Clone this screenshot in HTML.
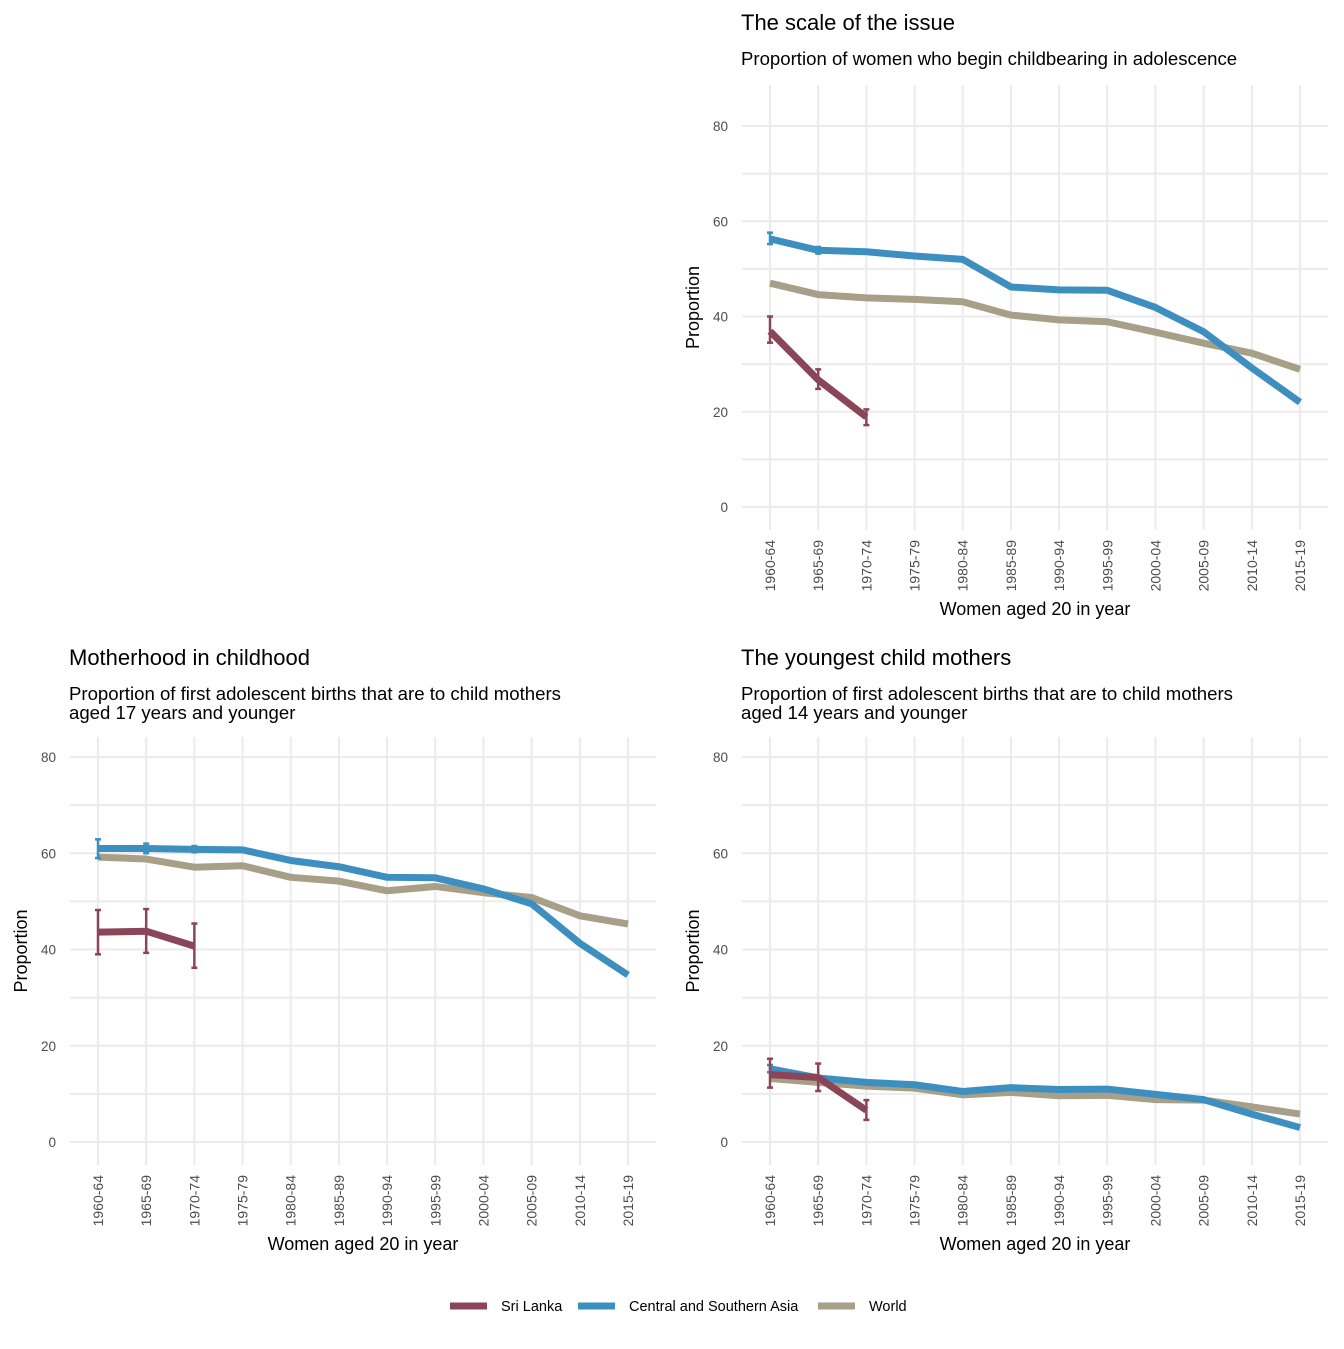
<!DOCTYPE html>
<html><head><meta charset="utf-8"><style>
body{margin:0;background:#fff;}
svg text{font-family:"Liberation Sans",Arial,sans-serif;}
</style></head><body>
<svg id="c" width="1344" height="1344" viewBox="0 0 1344 1344" xmlns="http://www.w3.org/2000/svg"></svg>
<script>
const categories=["1960-64","1965-69","1970-74","1975-79","1980-84","1985-89","1990-94","1995-99","2000-04","2005-09","2010-14","2015-19"];
const yTicks=[0,20,40,60,80];
// Panel 1: scale of the issue
const p1CSA=[56.3,53.9,53.6,52.7,52.0,46.2,45.6,45.5,41.9,36.8,29.2,22.0];
const p1World=[47.0,44.6,43.9,43.6,43.1,40.3,39.3,38.9,36.7,34.4,32.3,28.9];
const p1SL=[36.9,26.7,18.9];
const p1SLlo=[34.5,24.8,17.2];
const p1SLhi=[40.0,28.9,20.5];
const p1CSAlo=[55.2,53.2];
const p1CSAhi=[57.6,54.6];
// Panel 2: motherhood in childhood
const p2CSA=[61.0,61.0,60.8,60.7,58.5,57.2,55.0,54.9,52.6,49.5,41.3,34.7];
const p2World=[59.2,58.8,57.1,57.4,55.0,54.2,52.2,53.1,51.8,50.8,47.0,45.3];
const p2SL=[43.6,43.8,40.7];
const p2SLlo=[39.0,39.3,36.2];
const p2SLhi=[48.2,48.4,45.4];
const p2CSAlo=[59.0,60.0,60.2];
const p2CSAhi=[62.9,62.0,61.5];
// Panel 3: youngest child mothers
const p3CSA=[15.2,13.3,12.4,11.9,10.5,11.3,10.9,11.0,9.9,8.8,5.8,3.0];
const p3World=[13.2,12.4,11.6,11.2,9.8,10.3,9.6,9.7,8.8,8.7,7.3,5.8];
const p3SL=[14.0,13.4,6.6];
const p3SLlo=[11.3,10.6,4.6];
const p3SLhi=[17.3,16.3,8.7];
const p3CSAlo=[14.5];
const p3CSAhi=[16.0];

const C_SL="#8b4558",C_CSA="#3d8fc0",C_W="#a89f88";
const svg=document.getElementById('c');
const NS="http://www.w3.org/2000/svg";
function el(tag,at,parent,txt){const e=document.createElementNS(NS,tag);for(const k in at)e.setAttribute(k,at[k]);if(txt!==undefined)e.textContent=txt;(parent||svg).appendChild(e);return e;}

function panel(o){
  const g=el('g',{});
  
  
  const x0=o.x0,x1=o.x1,y0=o.y0,y80=o.y80;
  const xs=i=>x0+(x1-x0)*i/(categories.length-1);
  const ys=v=>y0+(y80-y0)*v/80;
  for(let v=0;v<=80;v+=10){const l=el('line',{x1:o.left,x2:o.right,y1:ys(v),y2:ys(v),stroke:'#ebebeb','stroke-width':2},g);
    }
  categories.forEach((c,i)=>{const l=el('line',{x1:xs(i),x2:xs(i),y1:o.top,y2:o.bottom,stroke:'#ebebeb','stroke-width':2},g);
    
    const t=el('text',{x:0,y:0,transform:`translate(${xs(i)+5},${o.bottom+10}) rotate(-90)`,'text-anchor':'end','font-size':14,fill:'#4d4d4d'},g,c);
    });
  yTicks.forEach(v=>{const t=el('text',{x:o.left-14,y:ys(v)+5,'text-anchor':'end','font-size':13.5,fill:'#4d4d4d'},g,v);
    });
  const series=(arr,col,nm)=>{const p=el('polyline',{points:arr.map((v,i)=>xs(i)+','+ys(v)).join(' '),fill:'none',stroke:col,'stroke-width':7,'stroke-linejoin':'round'},g);
    };
  const errs=(lo,hi,col,nm)=>{lo.forEach((v,i)=>{const eg=el('g',{stroke:col,'stroke-width':2.5},g);
    
    el('line',{x1:xs(i),x2:xs(i),y1:ys(v),y2:ys(hi[i])},eg);
    el('line',{x1:xs(i)-3,x2:xs(i)+3,y1:ys(v),y2:ys(v)},eg);
    el('line',{x1:xs(i)-3,x2:xs(i)+3,y1:ys(hi[i]),y2:ys(hi[i])},eg);});};
  series(o.w,C_W,'world-line');
  series(o.csa,C_CSA,'csa-line');
  errs(o.clo,o.chi,C_CSA,'csa-error-bar');
  series(o.sl,C_SL,'sri-lanka-line');
  errs(o.slo,o.shi,C_SL,'sri-lanka-error-bar');
  let t=el('text',{x:o.left-1,y:o.titleY,'font-size':22,fill:'#000'},g,o.title);
  
  o.sub.forEach((s,k)=>{const st=el('text',{x:o.left-1,y:o.titleY+35+k*19,'font-size':18.6,fill:'#000'},g,s);
    });
  t=el('text',{x:(o.left+o.right)/2,y:o.xtY,'text-anchor':'middle','font-size':18,fill:'#000'},g,'Women aged 20 in year');
  
  t=el('text',{x:0,y:0,transform:`translate(${o.left-43},${(o.top+o.bottom)/2}) rotate(-90)`,'text-anchor':'middle','font-size':18,fill:'#000'},g,'Proportion');
  
}
panel({name:'panel-scale-of-issue',x0:770,x1:1300,y0:507,y80:126,left:742,right:1328,top:85,bottom:530,
  csa:p1CSA,w:p1World,sl:p1SL,slo:p1SLlo,shi:p1SLhi,clo:p1CSAlo,chi:p1CSAhi,
  title:'The scale of the issue',sub:['Proportion of women who begin childbearing in adolescence'],titleY:30,xtY:615});
panel({name:'panel-motherhood-in-childhood',x0:98,x1:628,y0:1142,y80:757,left:70,right:656,top:737,bottom:1165,
  csa:p2CSA,w:p2World,sl:p2SL,slo:p2SLlo,shi:p2SLhi,clo:p2CSAlo,chi:p2CSAhi,
  title:'Motherhood in childhood',sub:['Proportion of first adolescent births that are to child mothers','aged 17 years and younger'],titleY:665,xtY:1250});
panel({name:'panel-youngest-child-mothers',x0:770,x1:1300,y0:1142,y80:757,left:742,right:1328,top:737,bottom:1165,
  csa:p3CSA,w:p3World,sl:p3SL,slo:p3SLlo,shi:p3SLhi,clo:p3CSAlo,chi:p3CSAhi,
  title:'The youngest child mothers',sub:['Proportion of first adolescent births that are to child mothers','aged 14 years and younger'],titleY:665,xtY:1250});

const legendLabels=["Sri Lanka","Central and Southern Asia","World"];
const legendColors=[C_SL,C_CSA,C_W];
const legendX=[450,578,818];
const lg=el('g',{});


legendLabels.forEach((lab,i)=>{const e=el('g',{},lg);
  
  
  el('line',{x1:legendX[i],x2:legendX[i]+37,y1:1306,y2:1306,stroke:legendColors[i],'stroke-width':7},e);
  el('text',{x:legendX[i]+51,y:1311,'font-size':14.5,fill:'#000'},e,lab);});
</script>
</body></html>
